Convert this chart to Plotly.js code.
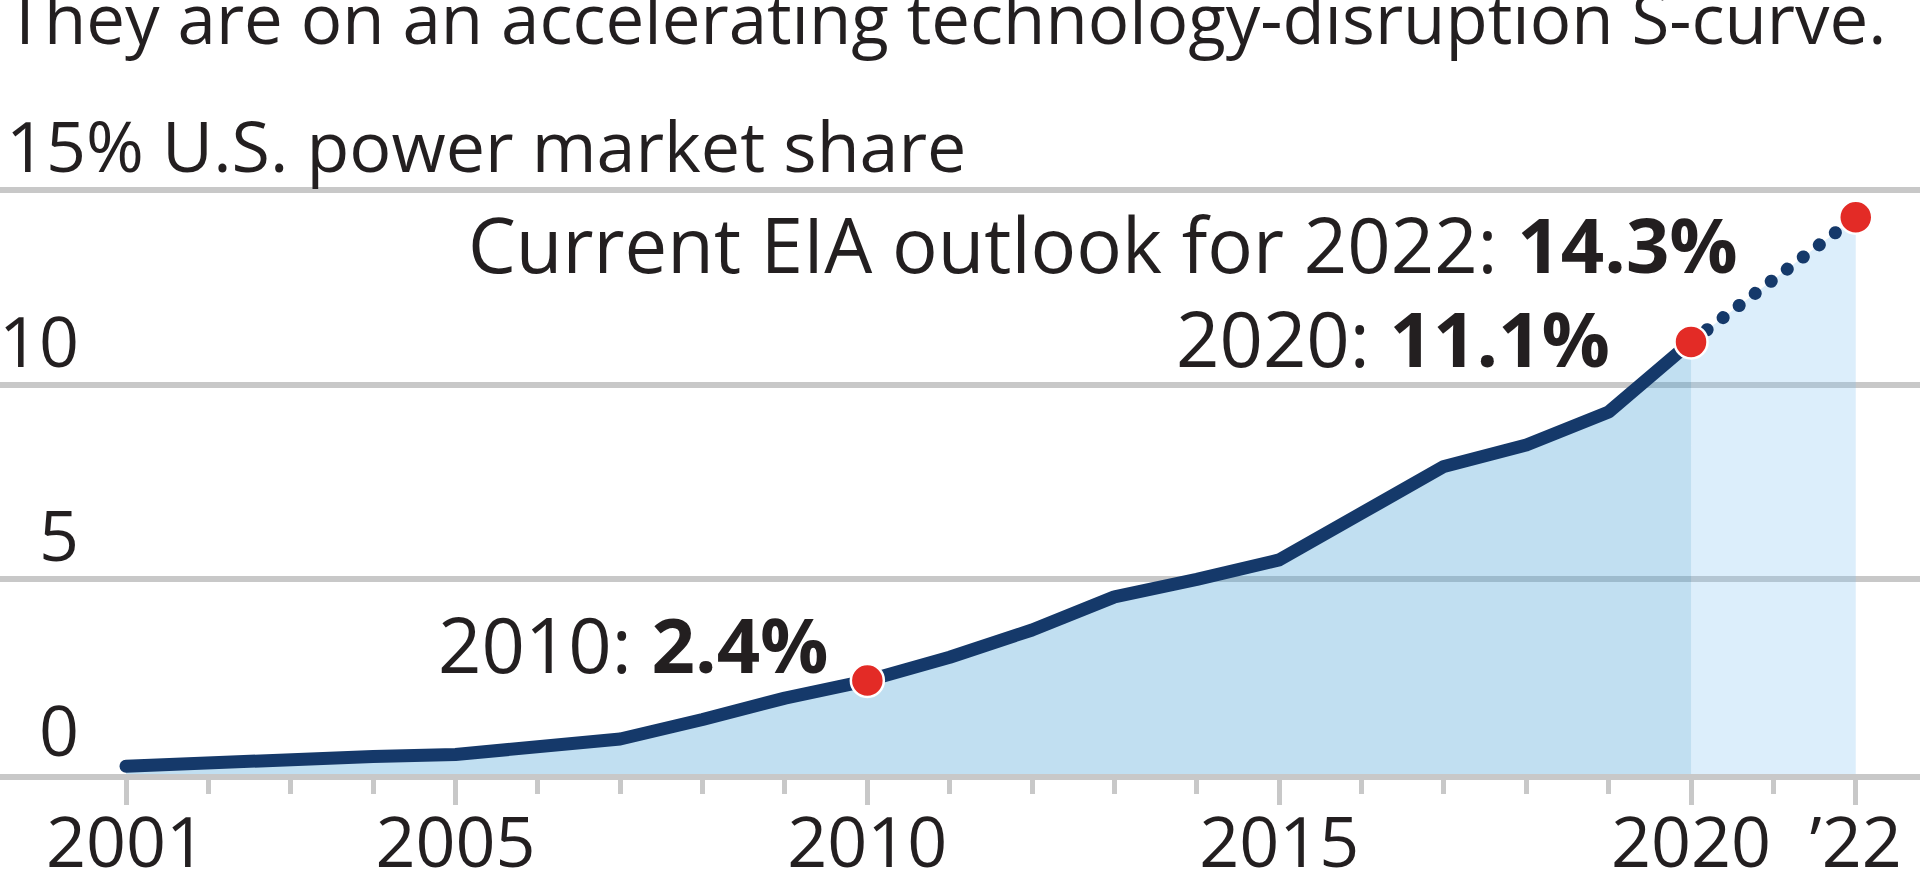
<!DOCTYPE html>
<html>
<head>
<meta charset="utf-8">
<script src="https://cdn.plot.ly/plotly-3.0.1.min.js"></script>
<style>
  html, body { margin: 0; padding: 0; background: #ffffff; overflow: hidden; }
  #chart { width: 1920px; height: 892px; }
  .js-line { stroke-linecap: round !important; stroke-linejoin: round !important; }
</style>
</head>
<body>
<div id="chart"></div>
<script>
// ---- Data ----
const years = [2001, 2002, 2003, 2004, 2005, 2006, 2007, 2008, 2009, 2010,
               2011, 2012, 2013, 2014, 2015, 2016, 2017, 2018, 2019, 2020];
const shareValues = [0.2, 0.3, 0.35, 0.45, 0.5, 0.7, 0.9, 1.4, 1.95, 2.4,
                     3.0, 3.7, 4.55, 5.0, 5.5, 6.7, 7.9, 8.45, 9.3, 11.1];
const outlookYears = [2020, 2021, 2022];
const outlookValues = [11.1, 12.7, 14.3];
const highlightYears = [2010, 2020, 2022];
const highlightValues = [2.4, 11.1, 14.3];
const tickYears = [2001, 2005, 2010, 2015, 2020, 2022];
const tickLabels = ['2001', '2005', '2010', '2015', '2020', '\u201922'];
const minorTickYears = [2001, 2002, 2003, 2004, 2005, 2006, 2007, 2008, 2009, 2010, 2011,
                        2012, 2013, 2014, 2015, 2016, 2017, 2018, 2019, 2020, 2021, 2022];
const gridValues = [0, 5, 10, 15];
const gridLabels = ['0', '5', '10', '15% U.S. power market share'];
const headline = 'They are on an accelerating technology-disruption S-curve.';

// ---- Style ----
const FONT = 'Open Sans, sans-serif';
const TEXT = '#231f20';
const GRID = '#c8c8c8';
const NAVY = '#15396a';
const RED = '#e32b26';

const traces = [
  {
    x: years, y: shareValues, type: 'scatter', mode: 'lines',
    line: {color: NAVY, width: 13},
    fill: 'tozeroy', fillcolor: 'rgba(78,164,215,0.35)',
    hoverinfo: 'skip', showlegend: false
  },
  {
    x: outlookYears, y: outlookValues, type: 'scatter', mode: 'lines',
    line: {color: NAVY, width: 13, dash: '0.1px,20px'},
    fill: 'tozeroy', fillcolor: 'rgba(130,195,240,0.28)',
    hoverinfo: 'skip', showlegend: false
  },
  {
    x: highlightYears, y: highlightValues, type: 'scatter', mode: 'markers',
    marker: {color: RED, size: 33, line: {color: '#ffffff', width: 2.5}},
    cliponaxis: false, hoverinfo: 'skip', showlegend: false
  }
];

const annotations = [];
gridValues.forEach((v, i) => {
  const isTitle = i === gridValues.length - 1;
  annotations.push({
    xref: 'paper', yref: 'y',
    x: isTitle ? 0.002 : 0.042, xanchor: isTitle ? 'left' : 'right',
    y: v, yanchor: 'bottom', yshift: -5,
    text: gridLabels[i], showarrow: false,
    font: {family: FONT, size: 70, color: TEXT}
  });
});
annotations.push({
  xref: 'paper', yref: 'paper', x: 0.002, xanchor: 'left',
  y: 1, yanchor: 'bottom', yshift: 46,
  text: headline, showarrow: false,
  font: {family: FONT, size: 69, color: TEXT}
});
annotations.push({
  xref: 'x', yref: 'y', x: highlightYears[0], y: highlightValues[0],
  xanchor: 'right', yanchor: 'bottom', xshift: -36, yshift: -16,
  text: highlightYears[0] + ': <b>' + highlightValues[0] + '%</b>',
  showarrow: false, font: {family: FONT, size: 76, color: TEXT}
});
annotations.push({
  xref: 'x', yref: 'y', x: highlightYears[1], y: highlightValues[1],
  xanchor: 'right', yanchor: 'bottom', xshift: -79, yshift: -49,
  text: highlightYears[1] + ': <b>' + highlightValues[1] + '%</b>',
  showarrow: false, font: {family: FONT, size: 76, color: TEXT}
});
annotations.push({
  xref: 'x', yref: 'y', x: highlightYears[2], y: highlightValues[2],
  xanchor: 'right', yanchor: 'bottom', xshift: -116, yshift: -80,
  text: 'Current EIA outlook for ' + highlightYears[2] + ': <b>' + highlightValues[2] + '%</b>',
  showarrow: false, font: {family: FONT, size: 76, color: TEXT}
});

const layout = {
  width: 1920, height: 892,
  margin: {l: 0, r: 0, t: 112, b: 118, pad: 0},
  paper_bgcolor: '#ffffff', plot_bgcolor: '#ffffff',
  showlegend: false,
  xaxis: {
    range: [1999.47, 2022.78],
    tickmode: 'array', tickvals: tickYears, ticktext: tickLabels,
    ticks: 'outside', ticklen: 25, tickwidth: 5, tickcolor: GRID,
    ticklabelstandoff: -22,
    showline: true, linecolor: GRID, linewidth: 6,
    showgrid: false, zeroline: false,
    tickfont: {family: FONT, size: 70, color: TEXT},
    minor: {tickmode: 'array', tickvals: minorTickYears, ticks: 'outside',
            ticklen: 14, tickwidth: 5, tickcolor: GRID, showgrid: false},
    fixedrange: true
  },
  yaxis: {
    range: [0, 17.005],
    tickmode: 'array', tickvals: [5, 10, 15],
    showticklabels: false, ticks: '',
    showgrid: true, gridcolor: GRID, gridwidth: 6,
    zeroline: false, showline: false, fixedrange: true
  },
  annotations: annotations
};

Plotly.newPlot('chart', traces, layout, {staticPlot: true, displayModeBar: false});
</script>
</body>
</html>
